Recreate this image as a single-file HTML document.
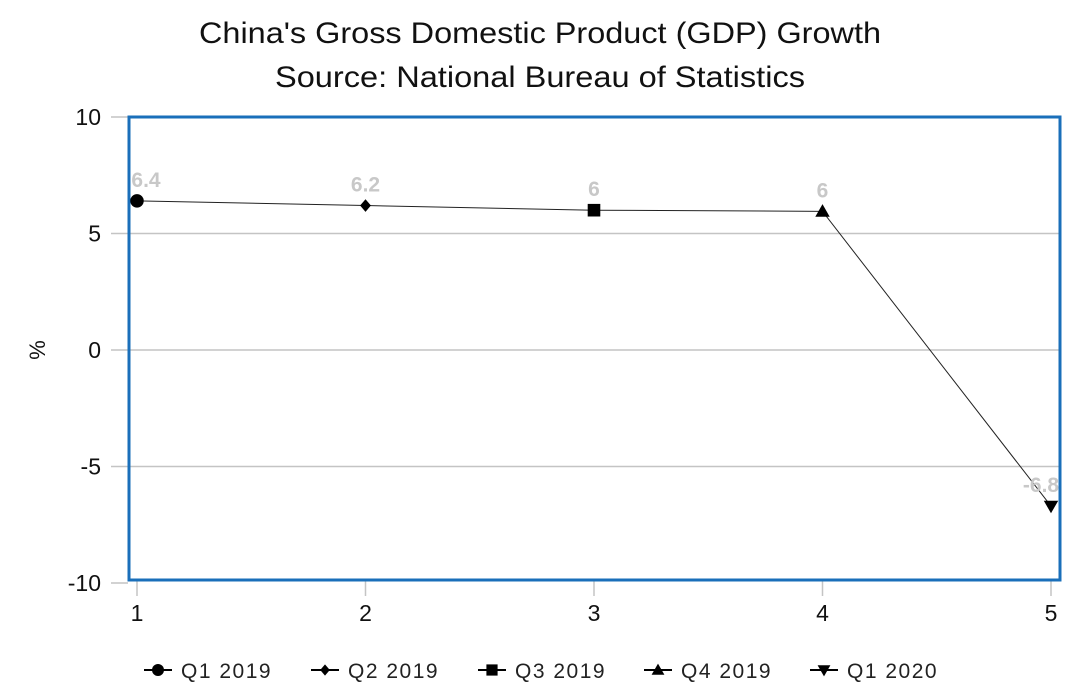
<!DOCTYPE html>
<html><head><meta charset="utf-8"><style>
body{margin:0;background:#fff;}
svg{display:block;font-family:"Liberation Sans",sans-serif;}
</style></head><body>
<svg id="chart" width="1080" height="695">
<text x="199" y="43" textLength="682" lengthAdjust="spacingAndGlyphs" font-size="30" fill="#111">China's Gross Domestic Product (GDP) Growth</text>
<text x="275" y="87" textLength="530" lengthAdjust="spacingAndGlyphs" font-size="30" fill="#111">Source: National Bureau of Statistics</text>
<text x="45" y="350" text-anchor="middle" font-size="22" fill="#111" transform="rotate(-90 45 350)">%</text>
<g id="grid"></g>
<rect x="129" y="117" width="931" height="463" fill="none" stroke="#1a6fba" stroke-width="3"/>
<g id="marks"></g>
<g id="legend"></g>
</svg>
<script>
const xCats=[1,2,3,4,5];
const gdpValues=[6.4,6.2,6.0,5.95,-6.7];
const valueLabels=["6.4","6.2","6","6","-6.8"];
const yTicks=[10,5,0,-5,-10];
const seriesNames=["Q1 2019","Q2 2019","Q3 2019","Q4 2019","Q1 2020"];
const markerTypes=["circle","diamond","square","up","down"];
const NS="http://www.w3.org/2000/svg";
const xs=v=>137+(v-1)*228.5;
const ys=v=>350-v*23.3;
function mk(tag,attrs,parent){const e=document.createElementNS(NS,tag);for(const k in attrs)e.setAttribute(k,attrs[k]);parent.appendChild(e);return e;}
const grid=document.getElementById('grid'),marks=document.getElementById('marks'),legend=document.getElementById('legend');
yTicks.forEach(t=>{
  if(t!==10&&t!==-10){const l=mk('line',{x1:129,x2:1060,y1:ys(t),y2:ys(t),stroke:'#c4c4c4','stroke-width':1.5},grid);
  
  }
  const tk=mk('line',{x1:111,x2:128,y1:ys(t),y2:ys(t),stroke:'#c4c4c4','stroke-width':1.5},grid);
  
  
  const tx=mk('text',{x:101,y:ys(t)+8,'text-anchor':'end','font-size':23,fill:'#111'},grid);tx.textContent=t;
  
  
});
xCats.forEach(c=>{
  const tk=mk('line',{x1:xs(c),x2:xs(c),y1:581,y2:596,stroke:'#c4c4c4','stroke-width':1.5},grid);
  
  
  const tx=mk('text',{x:xs(c),y:621,'text-anchor':'middle','font-size':23,fill:'#111'},grid);tx.textContent=c;
  
  
});
const line=mk('polyline',{points:xCats.map((c,i)=>xs(c)+','+ys(gdpValues[i])).join(' '),fill:'none',stroke:'#222','stroke-width':1},marks);


function marker(type,x,y,s,parent){
  if(type==='circle')return mk('circle',{cx:x,cy:y,r:s*0.75,fill:'#000'},parent);
  if(type==='diamond')return mk('polygon',{points:`${x},${y-s*0.7} ${x+s*0.6},${y} ${x},${y+s*0.7} ${x-s*0.6},${y}`,fill:'#000'},parent);
  if(type==='square')return mk('rect',{x:x-s*0.7,y:y-s*0.7,width:s*1.4,height:s*1.4,fill:'#000'},parent);
  if(type==='up')return mk('polygon',{points:`${x},${y-s*0.8} ${x+s*0.8},${y+s*0.6} ${x-s*0.8},${y+s*0.6}`,fill:'#000'},parent);
  return mk('polygon',{points:`${x},${y+s*0.8} ${x+s*0.8},${y-s*0.6} ${x-s*0.8},${y-s*0.6}`,fill:'#000'},parent);
}
xCats.forEach((c,i)=>{
  const m=marker(markerTypes[i],xs(c),ys(gdpValues[i]),9,marks);
  
  
  const lx=i===4?xs(c)-10:(i===0?xs(c)+9:xs(c));
  const t=mk('text',{x:lx,y:ys(gdpValues[i])-14,'text-anchor':'middle','font-size':21,'font-weight':'bold',fill:'#c8c8c8'},marks);
  t.textContent=valueLabels[i];
  
  
});
const lxPos=[158,325,492,658,824];
seriesNames.forEach((n,i)=>{
  const g=mk('g',{},legend);
  
  
  mk('line',{x1:lxPos[i]-14,x2:lxPos[i]+14,y1:670,y2:670,stroke:'#000','stroke-width':2},g);
  marker(markerTypes[i],lxPos[i],670,8,g);
  const t=mk('text',{x:lxPos[i]+23,y:678,'font-size':21,fill:'#222','letter-spacing':'1.5'},g);t.textContent=n;
});
</script>
</body></html>
